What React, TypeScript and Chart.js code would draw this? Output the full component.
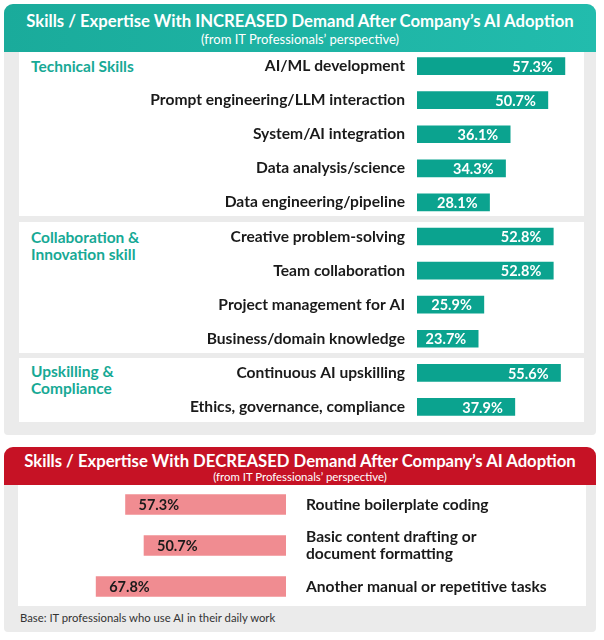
import React, { useEffect, useRef } from "react";
import { Chart, registerables } from "chart.js";

Chart.register(...registerables);

const increasedSkills: string[] = [
  "AI/ML development",
  "Prompt engineering/LLM interaction",
  "System/AI integration",
  "Data analysis/science",
  "Data engineering/pipeline",
  "Creative problem-solving",
  "Team collaboration",
  "Project management for AI",
  "Business/domain knowledge",
  "Continuous AI upskilling",
  "Ethics, governance, compliance",
];
const increasedValues: number[] = [57.3, 50.7, 36.1, 34.3, 28.1, 52.8, 52.8, 25.9, 23.7, 55.6, 37.9];

const decreasedSkills: string[][] = [
  ["Routine boilerplate coding"],
  ["Basic content drafting or", "document formatting"],
  ["Another manual or repetitive tasks"],
];
const decreasedValues: number[] = [57.3, 50.7, 67.8];

const FONT = "Lato, 'Open Sans', sans-serif";

const valueLabelPlugin = (color: string, align: "inside-end" | "inside-start", pad: number) => ({
  id: "valueLabels",
  afterDatasetsDraw(chart: any) {
    const ctx = chart.ctx;
    const meta = chart.getDatasetMeta(0);
    const data = chart.data.datasets[0].data as number[];
    ctx.save();
    ctx.font = `bold 14.5px ${FONT}`;
    ctx.fillStyle = color;
    ctx.textBaseline = "middle";
    meta.data.forEach((bar: any, i: number) => {
      const txt = `${data[i].toFixed(1)}%`;
      if (align === "inside-end") {
        ctx.textAlign = "right";
        ctx.fillText(txt, bar.x - pad, bar.y + 1);
      } else {
        ctx.textAlign = "left";
        ctx.fillText(txt, bar.x + pad, bar.y + 1);
      }
    });
    ctx.restore();
  },
});

function IncreasedChart() {
  const ref = useRef<HTMLCanvasElement>(null);
  useEffect(() => {
    if (!ref.current) return;
    const chart = new Chart(ref.current, {
      type: "bar",
      data: {
        labels: increasedSkills,
        datasets: [
          {
            data: increasedValues,
            backgroundColor: "#0ba38f",
            barThickness: 17,
          },
        ],
      },
      options: {
        indexAxis: "y",
        animation: false,
        responsive: false,
        maintainAspectRatio: false,
        layout: { padding: 0 },
        plugins: { legend: { display: false }, tooltip: { enabled: false } },
        scales: {
          x: { display: false, min: 0, max: 64.7 },
          y: {
            grid: { display: false, drawTicks: false },
            border: { display: false },
            ticks: {
              padding: 12,
              color: "#1a1a1a",
              font: { family: FONT, size: 15.6, weight: "bold" },
            },
            afterFit(scale: any) {
              scale.width = 398;
              scale.paddingTop = 0;
              scale.paddingBottom = 0;
            },
          },
        },
      },
      plugins: [valueLabelPlugin("#ffffff", "inside-end", 12)],
    } as any);
    return () => chart.destroy();
  }, []);
  return (
    <canvas
      ref={ref}
      width={565}
      height={375}
      style={{ position: "absolute", left: 19, top: 49, width: 565, height: 375 }}
    />
  );
}

function DecreasedChart() {
  const ref = useRef<HTMLCanvasElement>(null);
  useEffect(() => {
    if (!ref.current) return;
    const chart = new Chart(ref.current, {
      type: "bar",
      data: {
        labels: decreasedSkills,
        datasets: [
          {
            data: decreasedValues,
            backgroundColor: "#f08c91",
            barThickness: 20,
          },
        ],
      },
      options: {
        indexAxis: "y",
        animation: false,
        responsive: false,
        maintainAspectRatio: false,
        layout: { padding: 0 },
        plugins: { legend: { display: false }, tooltip: { enabled: false } },
        scales: {
          x: { display: false, min: 0, max: 95.7, reverse: true },
          y: {
            position: "right",
            grid: { display: false, drawTicks: false },
            border: { display: false },
            ticks: {
              padding: 20,
              color: "#1a1a1a",
              font: { family: FONT, size: 15.6, weight: "bold", lineHeight: 1.1 },
            },
            afterFit(scale: any) {
              scale.width = 300;
              scale.paddingTop = 0;
              scale.paddingBottom = 0;
            },
          },
        },
      },
      plugins: [valueLabelPlugin("#1a1a1a", "inside-start", 13)],
    } as any);
    return () => chart.destroy();
  }, []);
  return (
    <canvas
      ref={ref}
      width={568}
      height={123}
      style={{ position: "absolute", left: 18, top: 484, width: 568, height: 123 }}
    />
  );
}

const abs = (s: React.CSSProperties): React.CSSProperties => ({ position: "absolute", ...s });

const groupStyle: React.CSSProperties = {
  position: "absolute",
  left: 31,
  color: "#17a995",
  fontFamily: FONT,
  fontWeight: 700,
  fontSize: 15.5,
  lineHeight: "17px",
};

export default function App() {
  return (
    <div style={abs({ left: 0, top: 0, width: 604, height: 640, background: "#ffffff", fontFamily: FONT })}>
      {/* Top panel */}
      <div style={abs({ left: 4, top: 4, width: 592, height: 431, background: "#ebebeb", borderRadius: "9px 9px 4px 4px" })} />
      <div
        style={abs({
          left: 4,
          top: 4,
          width: 592,
          height: 48,
          background: "linear-gradient(90deg, #1aab9b 0%, #22bcad 100%)",
          borderRadius: "9px 9px 0 0",
        })}
      />
      <div style={abs({ left: 4, top: 11, width: 592, textAlign: "center", color: "#fff", fontWeight: 700, fontSize: 16.7, lineHeight: "20px" })}>
        Skills / Expertise With INCREASED Demand After Company’s AI Adoption
      </div>
      <div style={abs({ left: 4, top: 31, width: 592, textAlign: "center", color: "#fff", fontSize: 13, lineHeight: "16px" })}>
        (from IT Professionals’ perspective)
      </div>
      <div style={abs({ left: 19, top: 52, width: 565, height: 164, background: "#fff" })} />
      <div style={abs({ left: 19, top: 222, width: 565, height: 131, background: "#fff" })} />
      <div style={abs({ left: 19, top: 358, width: 565, height: 64, background: "#fff" })} />
      <div style={{ ...groupStyle, top: 58 }}>Technical Skills</div>
      <div style={{ ...groupStyle, top: 229 }}>
        Collaboration &amp;
        <br />
        Innovation skill
      </div>
      <div style={{ ...groupStyle, top: 363 }}>
        Upskilling &amp;
        <br />
        Compliance
      </div>
      <IncreasedChart />

      {/* Bottom panel */}
      <div style={abs({ left: 4, top: 447, width: 592, height: 185, background: "#ebebeb", borderRadius: "9px 9px 4px 4px" })} />
      <div style={abs({ left: 4, top: 447, width: 592, height: 38, background: "#c61225", borderRadius: "9px 9px 0 0" })} />
      <div style={abs({ left: 4, top: 451, width: 592, textAlign: "center", color: "#fff", fontWeight: 700, fontSize: 16.7, lineHeight: "20px" })}>
        Skills / Expertise With DECREASED Demand After Company’s AI Adoption
      </div>
      <div style={abs({ left: 4, top: 470, width: 592, textAlign: "center", color: "#fff", fontSize: 11.4, lineHeight: "13px" })}>
        (from IT Professionals’ perspective)
      </div>
      <div style={abs({ left: 18, top: 485, width: 568, height: 121, background: "#fff" })} />
      <DecreasedChart />
      <div style={abs({ left: 20, top: 611, color: "#333", fontSize: 11.3, lineHeight: "14px" })}>
        Base: IT professionals who use AI in their daily work
      </div>
    </div>
  );
}
